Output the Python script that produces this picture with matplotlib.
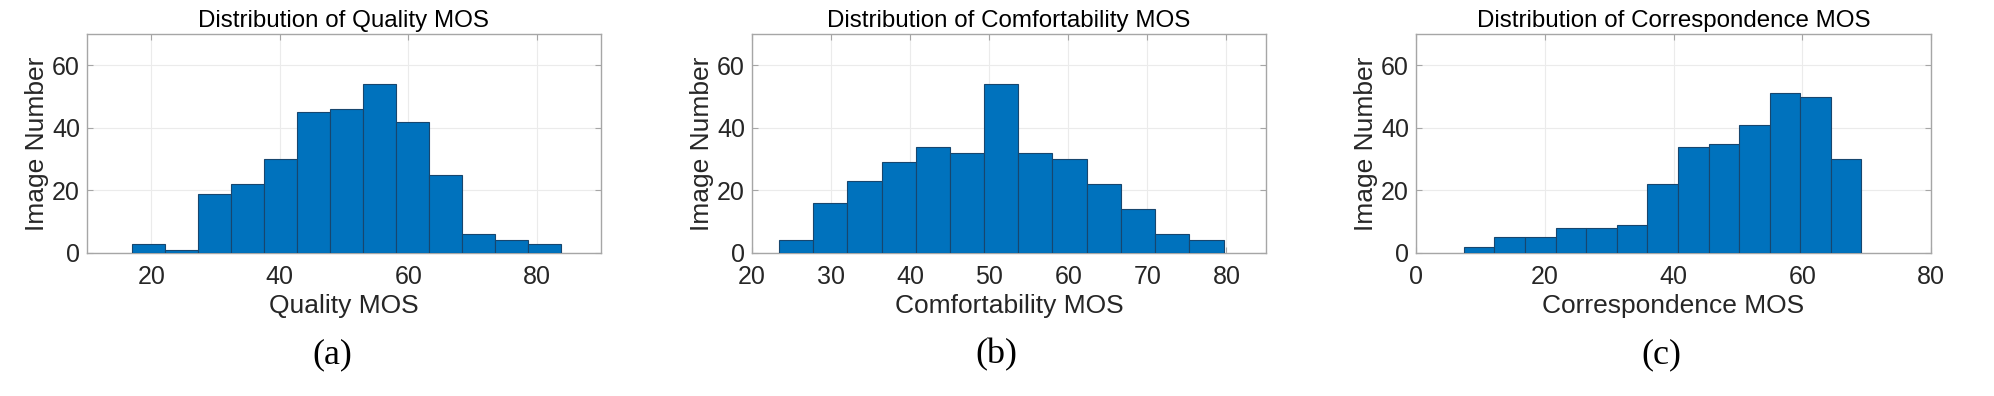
import matplotlib
matplotlib.use("Agg")
import matplotlib.pyplot as plt

# ---------------- data ----------------
quality_edges = [16.93, 22.07, 27.21, 32.35, 37.49, 42.63, 47.77, 52.91, 58.05,
                 63.19, 68.33, 73.47, 78.61, 83.75]
quality_counts = [3, 1, 19, 22, 30, 45, 46, 54, 42, 25, 6, 4, 3]

comfort_edges = [23.40, 27.73, 32.05, 36.38, 40.70, 45.03, 49.35, 53.68, 58.00,
                 62.33, 66.65, 70.98, 75.30, 79.63]
comfort_counts = [4, 16, 23, 29, 34, 32, 54, 32, 30, 22, 14, 6, 4]

corr_edges = [7.44, 12.19, 16.94, 21.69, 26.44, 31.19, 35.94, 40.69, 45.44,
              50.19, 54.94, 59.69, 64.44, 69.19]
corr_counts = [2, 5, 5, 8, 8, 9, 22, 34, 35, 41, 51, 50, 30]

titles = ["Distribution of Quality MOS", "Distribution of Comfortability MOS",
          "Distribution of Correspondence MOS"]
xlabels = ["Quality MOS", "Comfortability MOS", "Correspondence MOS"]
captions = ["(a)", "(b)", "(c)"]
xlims = [(10, 90), (20, 85), (0, 80)]
xticks = [[20, 40, 60, 80], [20, 30, 40, 50, 60, 70, 80], [0, 20, 40, 60, 80]]
yticks = [0, 20, 40, 60]

# ---------------- figure ----------------
W, H = 1994, 396
fig = plt.figure(figsize=(W / 100, H / 100), dpi=100)
fig.patch.set_facecolor("white")

plt.rcParams["font.family"] = ["Liberation Sans", "DejaVu Sans"]

lefts = [87, 752, 1416]
widths = [514, 514, 515]
ax_top, ax_bot = 34, 253
caption_x = [332, 996, 1661]
txt = "#262626"

series = [(quality_edges, quality_counts), (comfort_edges, comfort_counts),
          (corr_edges, corr_counts)]

for i, (edges, counts) in enumerate(series):
    ax = fig.add_axes([lefts[i] / W, 1 - ax_bot / H, widths[i] / W,
                       (ax_bot - ax_top) / H])
    ax.hist(edges[:-1], bins=edges, weights=counts, color="#0072BD",
            edgecolor="#17466e", linewidth=0.8, zorder=3)
    ax.set_xlim(*xlims[i])
    ax.set_ylim(0, 70)
    ax.set_xticks(xticks[i])
    ax.set_yticks(yticks)
    ax.grid(True, color="#ebebeb", linewidth=0.8, zorder=0)
    ax.set_axisbelow(True)
    for sp in ax.spines.values():
        sp.set_color("#a6a6a6")
        sp.set_linewidth(1.0)
    ax.tick_params(direction="in", length=4, width=0.8, color="#a6a6a6",
                   top=True, right=True, labelsize=18, labelcolor=txt)
    ax.tick_params(axis="x", pad=9)
    ax.tick_params(axis="y", pad=5)
    ax.set_title(titles[i], fontsize=17.4, color="black", pad=5)
    ax.set_xlabel(xlabels[i], fontsize=19, color=txt, labelpad=3)
    ax.set_ylabel("Image Number", fontsize=19, color=txt, labelpad=2)
    fig.text(caption_x[i] / W, 1 - 355 / H, captions[i], ha="center",
             va="center", fontsize=26, family=["Liberation Serif", "DejaVu Serif"],
             color="black")

fig.savefig("out.png", dpi=100, facecolor="white")
